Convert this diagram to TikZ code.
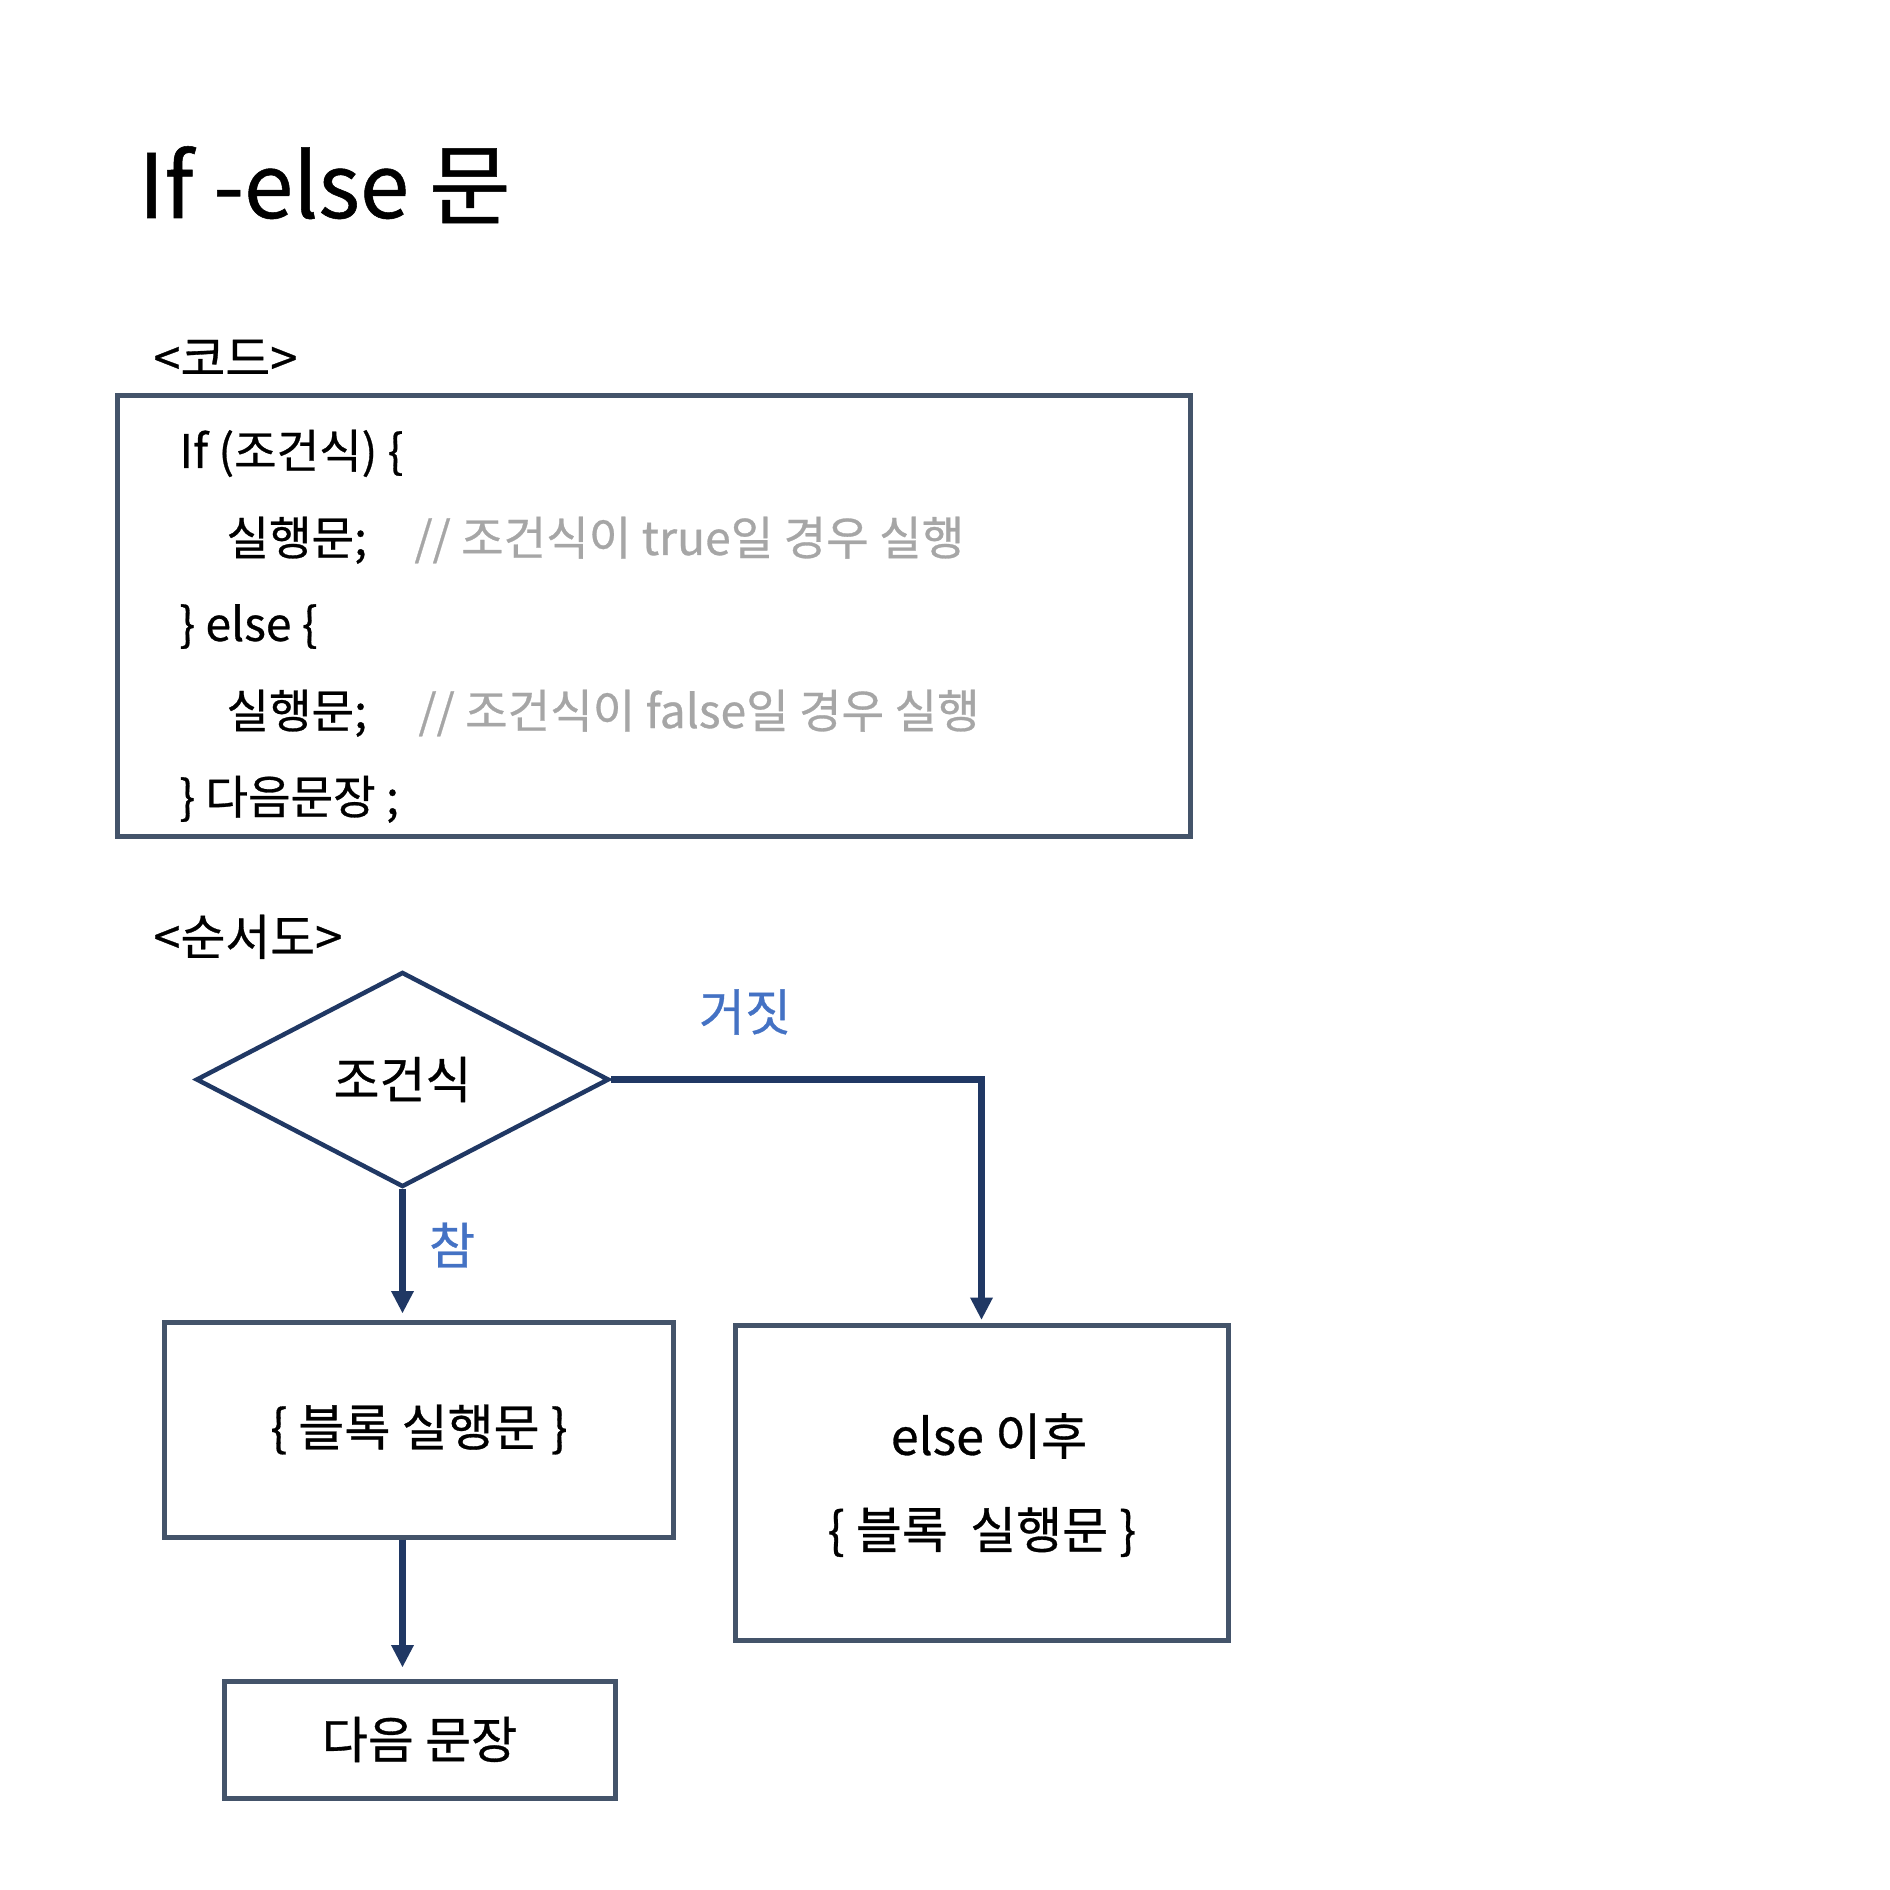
\documentclass[tikz,border=0pt]{standalone}
\usepackage{fontspec}
\setmainfont{Noto Sans CJK KR}[FakeBold=0.6]
\usetikzlibrary{shapes.geometric,arrows.meta}
\definecolor{boxc}{HTML}{44546A}
\definecolor{navy}{HTML}{203864}
\definecolor{lblue}{HTML}{4472C4}
\definecolor{cgray}{HTML}{A6A6A6}
\begin{document}
\begin{tikzpicture}[x=0.4pt,y=-0.4pt,
  box/.style={draw=boxc,line width=2pt,inner sep=0pt,align=center},
  codetxt/.style={anchor=base west,inner sep=0pt,font=\fontsize{18.5}{22}\selectfont},
  cmt/.style={codetxt,text=cgray},
  head/.style={anchor=base west,inner sep=0pt,font=\fontsize{19.5}{23}\selectfont},
  dtxt/.style={font=\fontsize{20}{24}\selectfont},
  lbl/.style={dtxt,text=lblue,inner sep=0pt},
  arr/.style={draw=navy,line width=2.5pt,-{Triangle[length=9pt,width=8.5pt]}}]
\useasboundingbox[fill=white] (0,0) rectangle (1890,1890);
% title
\node[anchor=base west,inner sep=0pt,font=\fontsize{35.5}{42}\selectfont] (title) at (138,218) {If -else 문};
% code section
\node[head] (codehead) at (153,376) {<코드>};
\node[box,minimum width=428.8pt,minimum height=176pt] (codebox) at (654,616) {};
\node[codetxt] (c1) at (179,468) {If (조건식) \{};
\node[codetxt] (c2) at (226,555) {실행문;};
\node[cmt] (c2c) at (414,555) {// 조건식이 true일 경우 실행};
\node[codetxt] (c3) at (179,641) {\} else \{};
\node[codetxt] (c4) at (226,728) {실행문;};
\node[cmt] (c4c) at (418,728) {// 조건식이 false일 경우 실행};
\node[codetxt] (c5) at (179,814) {\} 다음문장 ;};
% flowchart
\node[head] (flowhead) at (153,955) {<순서도>};
\node[diamond,aspect=2,draw=navy,line width=1.8pt,inner sep=0pt,
      minimum width=165.2pt,minimum height=86pt,dtxt] (dia) at (402.5,1079.5) {조건식};
\node[box,minimum width=203.2pt,minimum height=86pt,dtxt] (b1) at (419,1429.5) {\{\ 블록 실행문\ \}};
\node[box,minimum width=197.2pt,minimum height=126pt] (b2) at (981.5,1482.5) {};
\node[dtxt,inner sep=0pt] (b2a) at (989,1436) {else 이후};
\node[dtxt,inner sep=0pt] (b2b) at (982,1532) {\{\ 블록~~실행문\ \}};
\node[box,minimum width=156.4pt,minimum height=46.8pt,dtxt] (b3) at (419.5,1739.5) {다음 문장};
% labels
\node[lbl] (false) at (745,1012) {거짓};
\node[lbl] (true) at (452,1245) {참};
% connectors
\draw[arr,shorten >=2.4pt] (dia.south) -- (dia.south |- b1.north);
\draw[arr,shorten >=4.4pt] (b1.south -| dia.south) -- (b3.north -| dia.south);
\draw[arr,shorten >=1pt] (dia.east) -| (b2.north);
\end{tikzpicture}
\end{document}
